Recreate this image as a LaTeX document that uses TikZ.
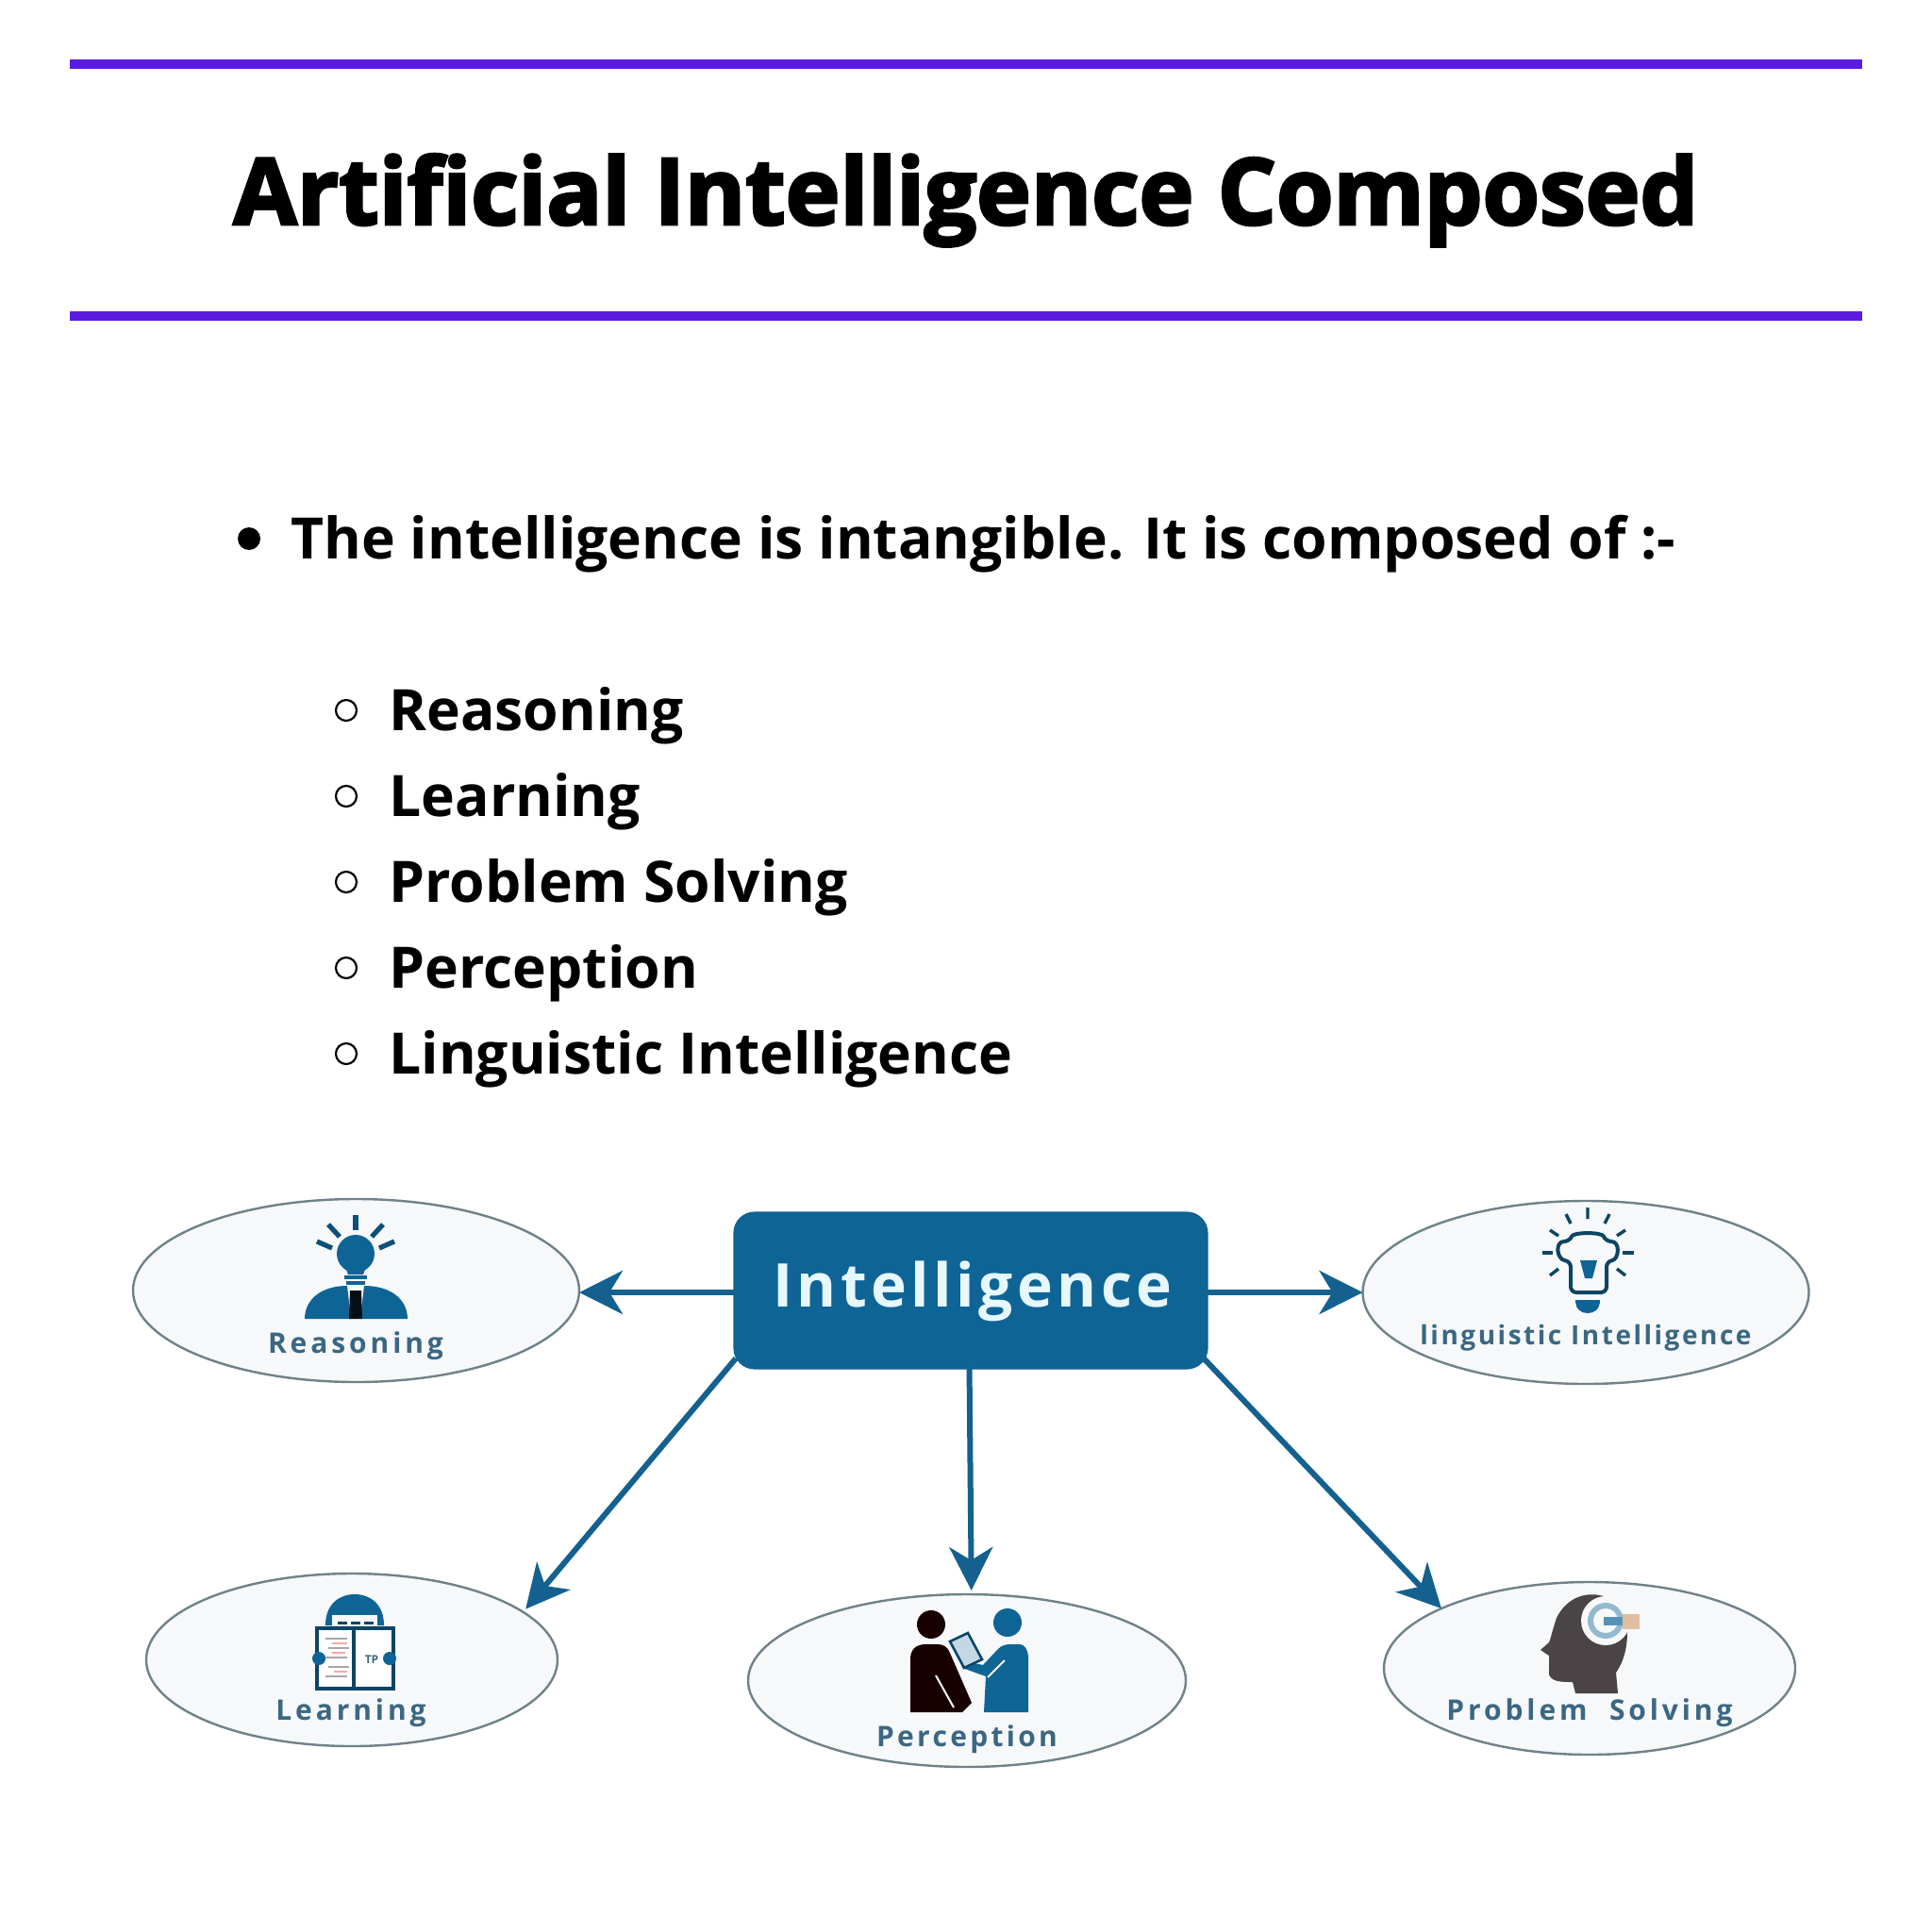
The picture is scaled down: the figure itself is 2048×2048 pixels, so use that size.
\documentclass[tikz,border=0pt]{standalone}
\usepackage{fontspec}
\usetikzlibrary{arrows.meta,shapes.geometric}
\setmainfont{Open Sans}
\newfontfamily\ttlfont[BoldFeatures={FakeBold=3}]{Open Sans}
\newfontfamily\lblfont[LetterSpace=13]{Open Sans}
\newfontfamily\lingfont[LetterSpace=9]{Open Sans}
\newfontfamily\percfont[LetterSpace=11]{Open Sans}
\newfontfamily\boxfont[LetterSpace=7]{Open Sans}
\definecolor{rulecol}{HTML}{5B1BE0}
\definecolor{aiblue}{HTML}{0F6496}
\definecolor{arrowcol}{HTML}{14618F}
\definecolor{lblcol}{HTML}{3B6782}
\definecolor{ellfill}{HTML}{F6F8F9}
\definecolor{ellline}{HTML}{6F8289}
\definecolor{headcol}{HTML}{4A4446}
\tikzset{
  x=0.5pt,y=-0.5pt,
  rulebar/.style={draw=rulecol,line width=4.8pt},
  ttl/.style={anchor=base west,inner sep=0pt,font=\ttlfont\fontsize{48.9}{50}\bfseries\selectfont,text=black},
  itm/.style={anchor=base west,inner sep=0pt,font=\fontsize{30.3}{32}\bfseries\selectfont,text=black},
  sub/.style={draw=black,line width=1.1pt,fill=white,circle,minimum size=11pt,inner sep=0pt},
  bul/.style={fill=black,circle,minimum size=12pt,inner sep=0pt},
  bubble/.style={ellipse,draw=ellline,fill=ellfill,line width=1.2pt,inner sep=0pt,outer sep=0pt},
  hub/.style={rectangle,rounded corners=11pt,fill=aiblue,draw=arrowcol,line width=.6pt,minimum width=251pt,minimum height=83pt,inner sep=0pt,outer sep=0pt},
  conn/.style={draw=arrowcol,line width=3pt,-{Stealth[length=23pt,width=23pt,inset=7pt]}},
  lbl/.style={anchor=base,inner sep=0pt,text=lblcol,font=\lblfont\fontsize{15}{16}\bfseries\selectfont},
  ray/.style={line width=2.6pt,draw=aiblue!80!black},
  raythin/.style={line width=1.7pt,draw=arrowcol!70!black},
}
\begin{document}
\begin{tikzpicture}
\useasboundingbox (0,0) rectangle (2048,2048);
\fill[white] (0,0) rectangle (2048,2048);
% header
\coordinate (r1a) at (74,68); \coordinate (r1b) at (1974,68);
\coordinate (r2a) at (74,335); \coordinate (r2b) at (1974,335);
\draw[rulebar] (r1a) -- (r1b);
\draw[rulebar] (r2a) -- (r2b);
\node[ttl] (title) at (247,238) {Artificial Intelligence Composed};
% list
\node[bul] (b0) at (264,571) {};
\node[itm] (t0) at (308,592) {The intelligence is intangible. It is composed of :-};
\node[sub] (b1) at (367,753) {};
\node[itm] (t1) at (412,774) {Reasoning};
\node[sub] (b2) at (367,844) {};
\node[itm] (t2) at (412,865) {Learning};
\node[sub] (b3) at (367,935) {};
\node[itm] (t3) at (412,956) {Problem Solving};
\node[sub] (b4) at (367,1026) {};
\node[itm] (t4) at (412,1047) {Perception};
\node[sub] (b5) at (367,1117) {};
\node[itm] (t5) at (412,1138) {Linguistic Intelligence};
% diagram nodes
\node[bubble,minimum width=236.5pt,minimum height=97pt] (reason) at (377.5,1368) {};
\node[bubble,minimum width=236.5pt,minimum height=97pt] (ling) at (1681,1370) {};
\node[bubble,minimum width=218pt,minimum height=91.5pt] (learn) at (373,1759.5) {};
\node[bubble,minimum width=232pt,minimum height=91.5pt] (perc) at (1025,1781.5) {};
\node[bubble,minimum width=218pt,minimum height=91.5pt] (prob) at (1685,1768.5) {};
% connectors
\node[hub] (core) at (1029,1368) {};
\node[anchor=base,inner sep=0pt,text=white!90!cyan,font=\boxfont\fontsize{32}{34}\bfseries\selectfont] (coretext) at (1031,1385) {Intelligence};
\draw[conn] ([yshift=-1pt]core.west) -- ([yshift=-1pt]reason.east);
\draw[conn] ([yshift=-1pt]core.east) -- (ling.west);
\draw[conn] ([xshift=1pt]core.196) -- ([xshift=4pt]learn.17);
\draw[conn,shorten >=2pt] (core.-91) -- (perc.87);
\draw[conn] ([xshift=-2pt]core.344) -- (prob.158);
% reasoning icon
\fill[aiblue] (377,1329) circle (20);
\fill[aiblue] (364,1338) -- (390,1338) -- (385,1351) -- (369,1351) -- cycle;
\draw[aiblue,line width=1.6pt] (365,1354) -- (389,1354) (367,1360) -- (387,1360);
\draw[ray] (377,1288) -- (377,1304);
\draw[ray] (348,1298) -- (360,1311) (406,1298) -- (394,1311);
\draw[ray] (336,1316) -- (352,1323) (418,1316) -- (402,1323);
\fill[aiblue] (323,1398) .. controls (323,1378) and (340,1363) .. (368,1363) -- (372,1398) -- cycle;
\fill[aiblue] (432,1398) .. controls (432,1378) and (415,1363) .. (386,1363) -- (382,1398) -- cycle;
\fill[black!85!aiblue] (371,1368) -- (383,1368) -- (384,1398) -- (370,1398) -- cycle;
\node[lbl] (reasonlbl) at (377,1434) {Reasoning};
% linguistic icon
\draw[raythin,line width=2pt,rounded corners=3pt,fill=ellfill] (1665,1370) -- (1665,1337) .. controls (1650,1335) and (1648,1316) .. (1664,1316) .. controls (1668,1306) and (1698,1306) .. (1702,1316) .. controls (1718,1316) and (1716,1335) .. (1703,1337) -- (1703,1370) -- cycle;
\fill[aiblue] (1675,1336) -- (1693,1336) -- (1688,1355) -- (1680,1355) -- cycle;
\fill[aiblue] (1670,1378) -- (1696,1378) .. controls (1696,1388) and (1690,1392) .. (1683,1392) .. controls (1676,1392) and (1670,1388) .. (1670,1378) -- cycle;
\draw[raythin] (1683,1280) -- (1683,1292) (1660,1287) -- (1665,1297) (1706,1287) -- (1701,1297);
\draw[raythin] (1643,1304) -- (1652,1310) (1723,1304) -- (1714,1310);
\draw[raythin] (1635,1328) -- (1646,1328) (1720,1328) -- (1732,1328);
\draw[raythin] (1643,1352) -- (1652,1345) (1723,1352) -- (1714,1345);
\node[lbl,font=\lingfont\fontsize{14}{15}\bfseries\selectfont] (linglbl) at (1681,1425) {linguistic Intelligence};
% learning icon
\fill[aiblue] (345,1723) .. controls (345,1700) and (360,1690) .. (376,1690) .. controls (392,1690) and (407,1700) .. (407,1723) -- cycle;
\fill[ellfill] (352,1723) -- (352,1712) -- (400,1712) -- (400,1723) -- cycle;
\draw[raythin,dash pattern=on 5pt off 2pt,line width=1.5pt] (358,1720) -- (396,1720);
\draw[raythin,line width=1.6pt,fill=white] (336,1726) rectangle (417,1790);
\draw[raythin,line width=2.4pt] (375,1726) -- (375,1792);
\draw[black!35,line width=.8pt] (345,1737) -- (368,1737) (348,1747) -- (370,1747) (345,1757) -- (368,1757) (348,1767) -- (370,1767) (345,1777) -- (368,1777);
\draw[red!35,line width=.8pt] (352,1742) -- (368,1742) (352,1752) -- (366,1752) (354,1772) -- (368,1772);
\fill[aiblue] (338,1758) circle (7) (413,1758) circle (7);
\node[inner sep=0pt,text=lblcol,font=\fontsize{6}{7}\bfseries\selectfont] (tp) at (394,1759) {TP};
\node[lbl] (learnlbl) at (372,1823) {Learning};
% perception icon
\fill[black!90!red] (987,1722) circle (15);
\fill[black!90!red] (965,1815) -- (965,1757) .. controls (966,1745) and (975,1743) .. (982,1743) -- (994,1743) .. controls (1000,1743) and (1004,1746) .. (1006,1750) -- (1030,1805) -- (1020,1815) -- cycle;
\draw[ellfill,line width=1pt] (992,1776) -- (1011,1810);
\fill[aiblue] (1068,1720) circle (15);
\fill[aiblue] (1043,1815) -- (1045,1777) -- (1020,1768) -- (1019,1760) -- (1042,1765) -- (1058,1748) .. controls (1062,1744) and (1066,1743) .. (1072,1743) -- (1080,1743) .. controls (1087,1743) and (1090,1750) .. (1090,1757) -- (1090,1815) -- cycle;
\draw[ellfill,line width=1pt] (1047,1778) -- (1065,1760);
\draw[aiblue!70!black,line width=1.3pt,fill=aiblue!25] (1007,1740) -- (1026,1731) -- (1041,1759) -- (1022,1768) -- cycle;
\node[lbl,font=\percfont\fontsize{15}{16}\bfseries\selectfont] (perclbl) at (1025,1851) {Perception};
% problem solving icon
\fill[headcol] (1703,1693) .. controls (1680,1685) and (1660,1695) .. (1650,1715) .. controls (1645,1730) and (1643,1740) .. (1642,1741) -- (1633,1749) -- (1642,1755) -- (1642,1775) .. controls (1645,1783) and (1655,1783) .. (1667,1783) -- (1670,1795) -- (1715,1795) -- (1713,1773) .. controls (1722,1760) and (1725,1745) .. (1725,1730) -- cycle;
\fill[ellfill] (1702,1718) circle (26);
\fill[aiblue!45] (1702,1718) circle (19);
\fill[ellfill] (1702,1718) circle (13);
\fill[aiblue!70] (1700,1714) rectangle (1721,1723);
\fill[brown!50!white] (1720,1711) rectangle (1738,1727);
\node[lbl] (problbl) at (1685,1823) {Problem\ \ Solving};
\end{tikzpicture}
\end{document}
